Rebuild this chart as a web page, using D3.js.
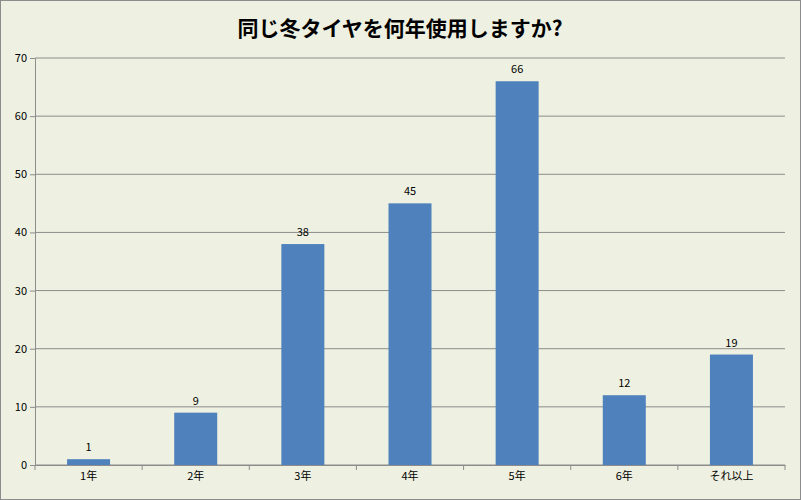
<!DOCTYPE html>
<html><head><meta charset="utf-8">
<script src="https://cdn.jsdelivr.net/npm/d3@7"></script>
<style>body{margin:0;background:#fff}</style>
</head><body><svg id="c" width="801" height="500"></svg>
<script>
const categories=["1年","2年","3年","4年","5年","6年","それ以上"];
const values=[1,9,38,45,66,12,19];
const yTicks=[0,10,20,30,40,50,60,70];
const title="同じ冬タイヤを何年使用しますか?";
const svg=d3.select("#c");
const F="'Noto Sans CJK JP','Noto Sans',sans-serif";
svg.append("rect").attr("x",0.5).attr("y",0.5).attr("width",800).attr("height",499).attr("fill","#EEF1E1").attr("stroke","#8c8c8c");
const L=35,R=785,T=58,B=465;
const x=d3.scaleBand().domain(categories).range([L,R]);
const y=d3.scaleLinear().domain([0,70]).range([B,T]);
const g=svg.append("g");
g.selectAll(".gl").data(yTicks).join("line").attr("x1",L).attr("x2",R).attr("y1",d=>y(d)).attr("y2",d=>y(d)).attr("stroke","#8c8c8c").attr("stroke-width",1);
const ya=svg.append("g").attr("transform",`translate(${L},0)`).call(d3.axisLeft(y).tickValues(yTicks).tickSize(5).tickSizeOuter(0));
ya.selectAll("text").attr("font-family",F).attr("font-size",11).attr("fill","#000");
ya.selectAll("line,path").attr("stroke","#8c8c8c");
const bw=43;
svg.selectAll(".bar").data(values).join("rect").attr("x",(d,i)=>x(categories[i])+x.bandwidth()/2-bw/2).attr("width",bw).attr("y",d=>y(d)).attr("height",d=>B-y(d)).attr("fill","#4F81BD");
svg.selectAll(".lbl").data(values).join("text").attr("x",(d,i)=>x(categories[i])+x.bandwidth()/2).attr("y",d=>y(d)-8).attr("text-anchor","middle").attr("font-family",F).attr("font-size",11).text(d=>d);
const xa=svg.append("g").attr("transform",`translate(0,${B})`).call(d3.axisBottom(x).tickSize(0).tickSizeOuter(0));
xa.selectAll("text").attr("font-family",F).attr("font-size",11).attr("fill","#000").attr("dy","1.1em");
xa.selectAll("path").attr("stroke","#8c8c8c");
const edges=categories.map(c=>x(c)).concat([R]);
svg.selectAll(".xt").data(edges).join("line").attr("x1",d=>d).attr("x2",d=>d).attr("y1",B).attr("y2",B+5).attr("stroke","#8c8c8c");
svg.append("text").attr("x",400).attr("y",36).attr("text-anchor","middle").attr("font-family",F).attr("font-weight","bold").attr("font-size",21).text(title);
</script></body></html>
